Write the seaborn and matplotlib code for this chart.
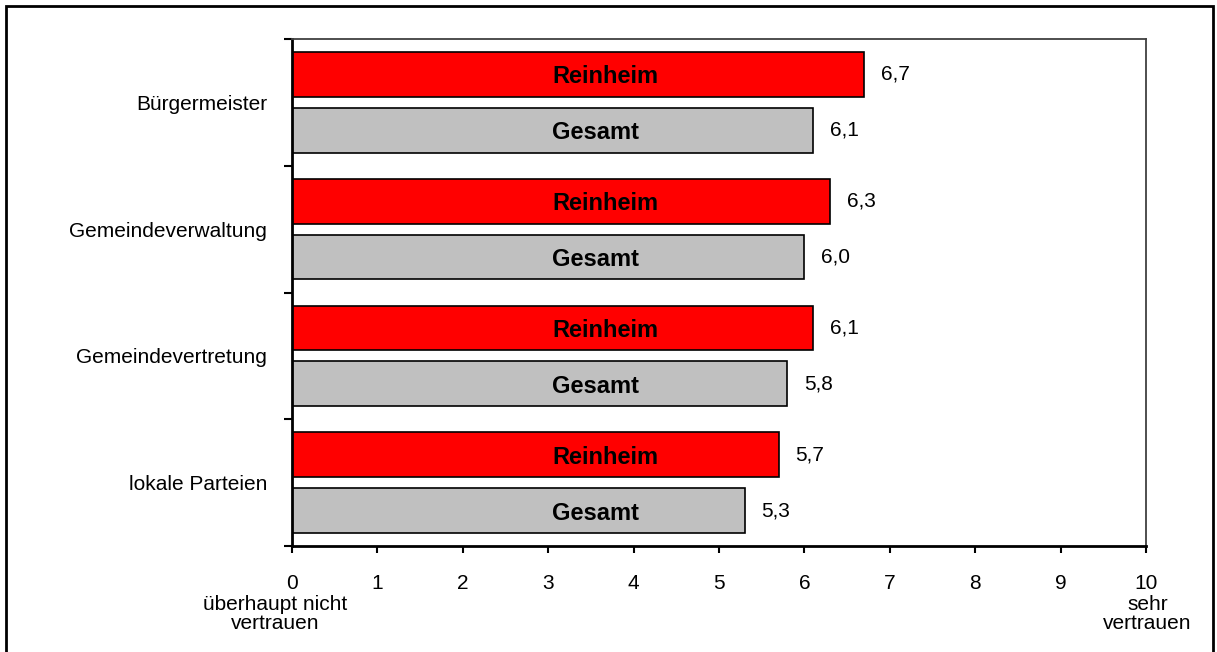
import numpy as np
import pandas as pd
import seaborn as sns
import matplotlib.pyplot as plt
from matplotlib.patches import Rectangle

# Daten
kategorien = ["Bürgermeister", "Gemeindeverwaltung", "Gemeindevertretung", "lokale Parteien"]
gruppen = ["Reinheim", "Gesamt"]
reinheim = [6.7, 6.3, 6.1, 5.7]
gesamt = [6.1, 6.0, 5.8, 5.3]
x_ticks = list(range(0, 11))
farben = ["#ff0000", "#c0c0c0"]

df = pd.DataFrame({
    "kategorie": kategorien * 2,
    "gruppe": ["Reinheim"] * len(reinheim) + ["Gesamt"] * len(gesamt),
    "wert": reinheim + gesamt,
})

sns.set_style("white")
plt.rcParams["font.family"] = ["Liberation Sans", "DejaVu Sans"]
plt.rcParams["text.color"] = "black"
plt.rcParams["xtick.color"] = "black"
plt.rcParams["ytick.color"] = "black"
plt.rcParams["axes.labelcolor"] = "black"

fig = plt.figure(figsize=(12.17, 6.52), dpi=100)
ax = fig.add_axes([292 / 1217, 1 - 546 / 652, 854 / 1217, 507 / 652])

sns.barplot(data=df, y="kategorie", x="wert", hue="gruppe", order=kategorien,
            hue_order=gruppen, palette=farben, saturation=1, edgecolor="black",
            linewidth=1.2, width=0.88, gap=0.2, orient="h", legend=False, ax=ax)

# Werte rechts neben den Balken, Gruppenname im Balken
for container, name in zip(ax.containers, gruppen):
    ax.bar_label(container,
                 labels=[f"{v:.1f}".replace(".", ",") for v in container.datavalues],
                 padding=12, fontsize=15, color="black")
    for bar in container:
        ax.text(3.05, bar.get_y() + bar.get_height() / 2, name, ha="left",
                va="center_baseline", fontsize=17, fontweight="bold", color="black")

ax.set_xlim(0, 10)
ax.set_xticks(x_ticks)
ax.set_ylim(len(kategorien) - 0.5, -0.5)
ax.set_yticks(np.arange(-0.5, len(kategorien), 1), minor=True)
ax.set_xlabel("")
ax.set_ylabel("")

ax.tick_params(axis="x", bottom=True, length=5, width=1.5, pad=15, labelsize=15, colors="black")
ax.tick_params(axis="y", which="major", left=True, length=0, pad=18, labelsize=15, colors="black")
ax.tick_params(axis="y", which="minor", left=True, length=6, width=1.5, color="black")

for s in ["left", "bottom"]:
    ax.spines[s].set_color("black")
    ax.spines[s].set_linewidth(2)
for s in ["top", "right"]:
    ax.spines[s].set_color("#404040")
    ax.spines[s].set_linewidth(1.3)

# Skalenbeschriftung
ax.annotate("überhaupt nicht\nvertrauen", xy=(0, 0), xycoords=("data", "axes fraction"),
            xytext=(-12, -35), textcoords="offset points", ha="center", va="top",
            fontsize=15, linespacing=1.05, color="black")
ax.annotate("sehr\nvertrauen", xy=(10, 0), xycoords=("data", "axes fraction"),
            xytext=(1, -35), textcoords="offset points", ha="center", va="top",
            fontsize=15, linespacing=1.05, color="black")

# Rahmen um die Grafik
fig.add_artist(Rectangle((6 / 1217, -0.05), 1207 / 1217, 1.05 - 6 / 652,
                         transform=fig.transFigure, fill=False,
                         edgecolor="black", linewidth=2))

fig.savefig("out.png", dpi=100)
